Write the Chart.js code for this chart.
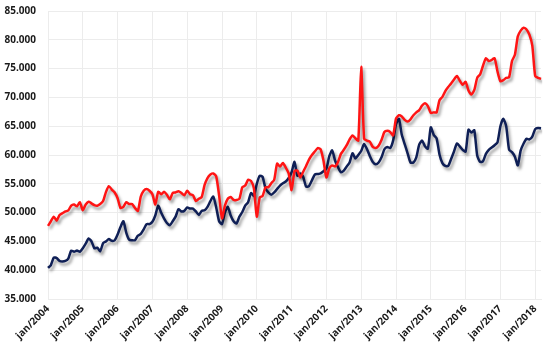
<!DOCTYPE html>
<html>
<head>
<meta charset="utf-8">
<script src="https://cdn.jsdelivr.net/npm/chart.js@4/dist/chart.umd.min.js"></script>
<style>
  html, body { margin: 0; padding: 0; background: #fff; }
  #wrap { width: 556px; height: 347px; }
</style>
</head>
<body>
<div id="wrap"><canvas id="chart"></canvas></div>
<script>
// meses jan/2004 .. mar/2018
const monthNames = ['jan', 'fev', 'mar', 'abr', 'mai', 'jun', 'jul', 'ago', 'set', 'out', 'nov', 'dez'];
const firstYear = 2004;
const monthCount = 171;

// valores em milhares
const redSeries = [
  47.7, 48.5, 49.3, 48.6, 49.6, 49.9, 50.2, 50.4, 51.2, 51.4, 51.1, 51.8,
  50.4, 51.4, 51.9, 51.6, 51.3, 51.2, 51.5, 52.0, 53.6, 54.6, 54.0, 53.5,
  52.5, 50.8, 51.0, 51.8, 51.5, 51.5, 50.8, 50.3, 52.8, 53.8, 54.1, 53.8,
  53.2, 51.4, 53.6, 53.2, 53.6, 53.1, 52.3, 53.4, 53.5, 53.7, 53.4, 53.0,
  53.8, 53.2, 53.0, 52.0, 52.4, 52.7, 54.8, 56.0, 56.6, 56.8, 56.3, 53.0,
  49.0, 51.2, 52.4, 52.7, 52.2, 52.2, 52.4, 54.4, 54.7, 55.7, 55.5, 54.2,
  49.3, 52.6, 52.9, 54.4, 54.4, 55.1, 55.7, 58.5, 58.0, 58.6, 57.8, 56.8,
  53.9, 57.2, 57.3, 56.1, 57.1, 58.1, 59.2, 60.0, 60.6, 61.2, 61.0, 59.0,
  56.1, 57.7, 58.2, 58.0, 58.8, 60.2, 60.9, 61.7, 62.7, 63.4, 62.9, 62.5,
  75.3, 62.8, 62.5, 62.3, 61.4, 61.2, 61.6, 62.6, 64.0, 64.2, 64.0, 63.4,
  66.3, 66.9, 66.7, 66.1, 65.8, 66.2, 66.9, 67.4, 67.8, 68.6, 69.0, 68.5,
  67.3, 67.4, 67.4, 69.5, 70.1, 71.1, 71.8, 72.4, 73.1, 73.7, 72.9, 72.2,
  72.7, 71.2, 70.5, 71.3, 73.4, 74.0, 75.5, 76.8, 76.3, 76.5, 76.8, 74.5,
  72.8, 73.0, 73.4, 73.5, 76.3, 77.4, 80.6, 81.6, 82.1, 81.8, 80.9, 79.0,
  73.7, 73.4, 73.2
];

const navySeries = [
  40.4, 40.9, 42.2, 42.1, 41.6, 41.5, 41.6, 42.0, 43.4, 43.2, 43.4, 43.2,
  43.8, 44.6, 45.5, 45.0, 43.8, 43.9, 43.3, 44.7, 45.0, 45.4, 45.1, 45.2,
  46.2, 47.5, 48.5, 46.5, 45.3, 45.2, 45.2, 46.0, 46.3, 47.1, 48.0, 48.0,
  48.4, 49.5, 51.2, 50.0, 49.0, 48.2, 47.8, 48.5, 49.3, 50.6, 50.2, 50.3,
  50.9, 50.7, 50.7, 50.2, 49.6, 50.3, 50.4, 51.0, 52.0, 52.8, 50.9, 48.5,
  48.0, 50.0, 51.0, 49.5, 48.5, 48.1, 49.3, 50.1, 51.2, 51.8, 53.4, 52.9,
  55.0, 56.4, 56.2, 54.2, 53.5, 53.1, 53.5, 54.1, 54.7, 55.1, 55.4, 56.0,
  57.0, 58.8, 56.4, 56.8, 56.2, 54.5, 54.6, 55.6, 56.6, 56.7, 56.8, 57.2,
  57.6, 59.8, 60.8, 59.0, 57.9, 57.0, 57.3, 58.0, 58.7, 60.3, 59.4, 60.0,
  60.7, 61.9, 61.0, 59.8, 58.8, 58.4, 58.7, 59.6, 61.0, 61.4, 61.2, 62.5,
  65.3, 66.3, 63.5, 61.9, 60.3, 58.7, 58.7, 59.6, 61.8, 62.5, 61.5, 61.1,
  64.8, 63.5, 62.9, 60.1, 58.6, 58.1, 58.1, 59.3, 60.6, 62.0, 61.5, 60.9,
  60.6, 64.4, 63.9, 64.3, 59.9, 58.8, 58.9, 60.2, 60.9, 61.3, 61.7, 62.2,
  65.0, 66.3, 65.0, 60.9, 60.5, 59.7, 58.2, 60.8, 62.0, 62.8, 62.7, 63.2,
  64.5, 64.7, 64.6
];

const yTicks = [35, 40, 45, 50, 55, 60, 65, 70, 75, 80, 85];

const labels = [];
for (let i = 0; i < monthCount; i++) {
  labels.push(monthNames[i % 12] + '/' + (firstYear + Math.floor(i / 12)));
}

// sombra por baixo das linhas
const lineShadow = {
  id: 'lineShadow',
  beforeDatasetDraw(chart) {
    const ctx = chart.ctx;
    ctx.save();
    ctx.shadowColor = 'rgba(0, 0, 0, 0.38)';
    ctx.shadowBlur = 3;
    ctx.shadowOffsetX = 2;
    ctx.shadowOffsetY = 3;
  },
  afterDatasetDraw(chart) {
    chart.ctx.restore();
  }
};

const gridColor = '#ececec';
const tickFont = { family: '"Open Sans", "DejaVu Sans", sans-serif', size: 10, weight: 'bold' };

new Chart(document.getElementById('chart'), {
  type: 'line',
  data: {
    labels: labels,
    datasets: [
      {
        label: 'A',
        data: redSeries,
        borderColor: '#ff1414',
        borderWidth: 2.5,
        pointRadius: 0,
        tension: 0.2,
        fill: false
      },
      {
        label: 'B',
        data: navySeries,
        borderColor: '#0f1f56',
        borderWidth: 2.5,
        pointRadius: 0,
        tension: 0.2,
        fill: false
      }
    ]
  },
  options: {
    responsive: true,
    maintainAspectRatio: false,
    animation: false,
    layout: { padding: { top: 11, right: 15, left: 0, bottom: 0 } },
    plugins: {
      legend: { display: false },
      tooltip: { enabled: false }
    },
    scales: {
      x: {
        offset: false,
        grid: {
          color: gridColor,
          drawTicks: false
        },
        border: { color: gridColor },
        ticks: {
          autoSkip: false,
          minRotation: 45,
          maxRotation: 45,
          padding: 4,
          color: '#1a1a1a',
          font: tickFont,
          callback: function (value, index) {
            return index % 12 === 0 ? labels[index] : null;
          }
        },
        afterFit: function (scale) {
          scale.height = 48;
          scale.paddingTop = 0;
          scale.paddingBottom = 0;
        }
      },
      y: {
        min: yTicks[0],
        max: yTicks[yTicks.length - 1],
        afterBuildTicks: function (scale) {
          scale.ticks = yTicks.map(v => ({ value: v }));
        },
        grid: {
          color: gridColor,
          drawTicks: false
        },
        border: { display: false },
        ticks: {
          padding: 12,
          color: '#1a1a1a',
          font: tickFont,
          callback: function (value) { return value + '.000'; }
        },
        afterFit: function (scale) {
          scale.width = 48;
          scale.paddingTop = 0;
          scale.paddingBottom = 0;
        }
      }
    }
  },
  plugins: [lineShadow]
});
</script>
</body>
</html>
